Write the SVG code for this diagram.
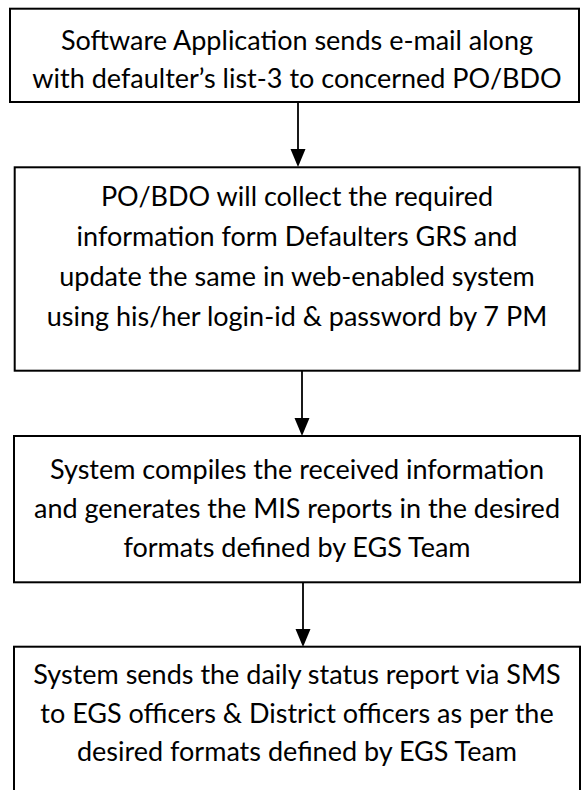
<svg xmlns="http://www.w3.org/2000/svg" width="581" height="790" viewBox="0 0 581 790">
<defs>
<style>
.box{fill:#fff;stroke:#000;stroke-width:2}
.t{font-family:Lato,"Open Sans","Liberation Sans",sans-serif;font-size:27px;fill:#000;text-anchor:middle}
.c{stroke:#000;stroke-width:1.8;fill:none}
.ah{fill:#000}
</style>
</defs>
<rect width="581" height="790" fill="#fff"/>
<g id="connectors">
<line class="c" x1="298" y1="102" x2="298" y2="150"/>
<path class="ah" d="M290.5,149 L305.5,149 L298,167 Z"/>
<line class="c" x1="302" y1="371" x2="302" y2="419"/>
<path class="ah" d="M294.5,418 L309.5,418 L302,436 Z"/>
<line class="c" x1="303" y1="582" x2="303" y2="630"/>
<path class="ah" d="M295.5,629 L310.5,629 L303,647 Z"/>
</g>
<g id="node1">
<rect class="box" x="10" y="8.7" width="569" height="93.3"/>
<text class="t" x="297" y="50">Software Application sends e-mail along</text>
<text class="t" x="297" y="88">with defaulter’s list-3 to concerned PO/BDO</text>
</g>
<g id="node2">
<rect class="box" x="14.7" y="167.3" width="564.8" height="203.4"/>
<text class="t" x="297" y="206">PO/BDO will collect the required</text>
<text class="t" x="297" y="246">information form Defaulters GRS and</text>
<text class="t" x="297" y="286">update the same in web-enabled system</text>
<text class="t" x="297" y="326">using his/her login-id &amp; password by 7 PM</text>
</g>
<g id="node3">
<rect class="box" x="14" y="436" width="566" height="146.3"/>
<text class="t" x="297" y="479">System compiles the received information</text>
<text class="t" x="297" y="518">and generates the MIS reports in the desired</text>
<text class="t" x="297" y="557">formats defined by EGS Team</text>
</g>
<g id="node4">
<rect class="box" x="14" y="646.7" width="566" height="160"/>
<text class="t" x="297" y="684">System sends the daily status report via SMS</text>
<text class="t" x="297" y="722.5">to EGS officers &amp; District officers as per the</text>
<text class="t" x="297" y="761">desired formats defined by EGS Team</text>
</g>
</svg>
